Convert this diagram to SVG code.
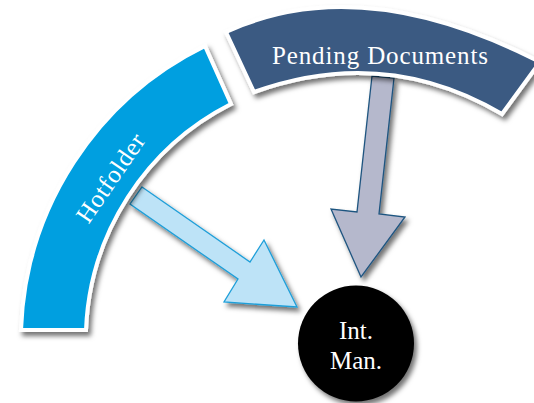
<svg xmlns="http://www.w3.org/2000/svg" width="534" height="403" viewBox="0 0 534 403">
<defs>
<filter id="sh" x="-15%" y="-15%" width="130%" height="130%"><feDropShadow dx="3" dy="4" stdDeviation="2.5" flood-color="#000" flood-opacity="0.55"/></filter>
<style>
.seg{stroke:#fff;stroke-width:4;stroke-linejoin:miter;filter:url(#sh)}
.t{font-family:"Liberation Serif","Times New Roman",serif;fill:#fff;text-anchor:middle}
</style>
</defs>
<rect width="534" height="403" fill="#fff"/>
<g id="connectors">
<path id="arrow-hotfolder" d="M142 187L250 262L264 240L297 307L224 302L238 279L130 204Z" fill="#bde3f7" stroke="#1f9fd9" stroke-width="1.3" stroke-linejoin="miter" filter="url(#sh)"/>
<path id="arrow-pending" d="M372 76L394 78L379 214L405 217L361 277L331 209L357 212Z" fill="#b5b8cc" stroke="#1f5580" stroke-width="1.3" filter="url(#sh)"/>
</g>
<g id="hotfolder">
<path class="seg" fill="#009fe0" d="M21 330A329 329 0 0 1 205 46L231 104A265 265 0 0 0 86 330Z"/>
<text class="t" font-size="25" letter-spacing="0.6" transform="translate(111 178) rotate(-55.5)" x="0" y="8">Hotfolder</text>
</g>
<g id="pending">
<path class="seg" fill="#3a5a82" d="M226 32Q360 -30 540 62L502 114Q385 45 254 92Z"/>
<text class="t" font-size="25" x="380" y="64" textLength="216" lengthAdjust="spacing">Pending Documents</text>
</g>
<g id="intman">
<circle cx="356" cy="343.5" r="58" fill="#000" filter="url(#sh)"/>
<text class="t" font-size="25" x="356" y="339">Int.</text>
<text class="t" font-size="25" x="356" y="369">Man.</text>
</g>
</svg>
